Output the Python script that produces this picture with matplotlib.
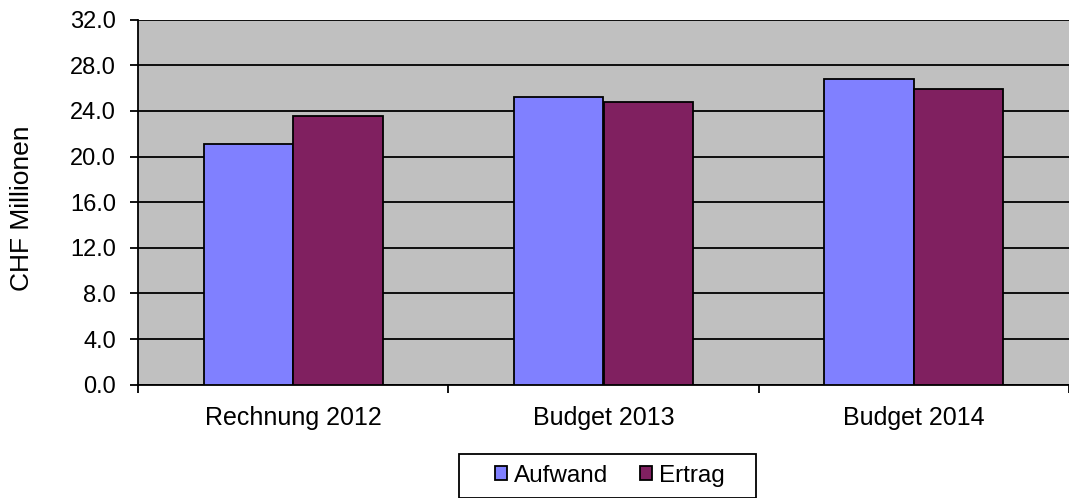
import numpy as np
import matplotlib.pyplot as plt
from matplotlib.patches import Rectangle
from matplotlib.ticker import FixedLocator, FormatStrFormatter

plt.rcParams['font.family'] = ['Liberation Sans', 'DejaVu Sans']

categories = ['Rechnung 2012', 'Budget 2013', 'Budget 2014']
aufwand = [21.1, 25.2, 26.8]
ertrag = [23.6, 24.8, 25.9]
yticks = [0, 4, 8, 12, 16, 20, 24, 28, 32]

W, H = 1069, 498
fig = plt.figure(figsize=(W / 100, H / 100), dpi=100)
ax = fig.add_axes([138 / W, 1 - 384.7 / H, 1 - 138 / W, (384.7 - 19.7) / H])
ax.set_facecolor('#C0C0C0')

x = np.arange(len(categories))
w = 0.288
ax.bar(x - w / 2, aufwand, w, color='#8080FF', edgecolor='black', linewidth=1.3,
       label='Aufwand', zorder=3)
ax.bar(x + w / 2, ertrag, w, color='#802060', edgecolor='black', linewidth=1.3,
       label='Ertrag', zorder=3)

ax.set_xlim(-0.5, 2.5)
ax.set_ylim(0, 32)
ax.set_yticks(yticks)
ax.yaxis.set_major_formatter(FormatStrFormatter('%.1f'))
ax.yaxis.grid(True, color='black', linewidth=1.3, zorder=1)
ax.set_axisbelow(True)

ax.set_xticks(x)
ax.set_xticklabels(categories)
ax.xaxis.set_minor_locator(FixedLocator([-0.5, 0.5, 1.5, 2.5]))
ax.tick_params(axis='x', which='major', length=0, pad=15, labelsize=18)
ax.tick_params(axis='x', which='minor', length=6, width=1.3, direction='out')
ax.tick_params(axis='y', length=6, width=1.3, direction='out', labelsize=17, pad=10)

for side in ['top', 'right']:
    ax.spines[side].set_visible(False)
for side in ['left', 'bottom']:
    ax.spines[side].set_linewidth(1.3)

ax.set_ylabel('CHF Millionen', fontsize=19)
ax.yaxis.set_label_coords((34 - 138) / 931, 0.484)

# legend frame drawn as a box like the original
fig.patches.append(Rectangle((459 / W, 0), (756 - 459) / W, (H - 454) / H,
                             transform=fig.transFigure, fill=False,
                             edgecolor='black', linewidth=1.3))
fig.legend(loc='center', bbox_to_anchor=(610 / W, 1 - 476 / H), ncol=2,
           frameon=False, fontsize=17.5, handlelength=0.5, handleheight=0.5,
           handletextpad=0.3, columnspacing=1.3, borderpad=0, borderaxespad=0)

fig.savefig('out.png', dpi=100)
